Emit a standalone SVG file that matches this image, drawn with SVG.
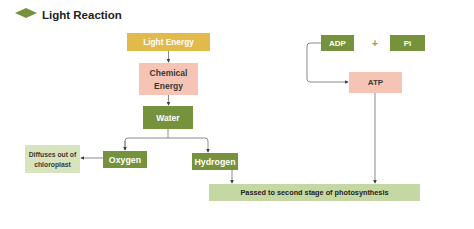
<svg xmlns="http://www.w3.org/2000/svg" width="474" height="229" viewBox="0 0 474 229">
<style>
text{font-family:"Liberation Sans",Arial,sans-serif;font-weight:bold;text-anchor:middle;dominant-baseline:central}
.w{fill:#ffffff}
.d{fill:#3a3a3a}
.gold{fill:#E2B94B}
.pink{fill:#F6C4B4}
.green{fill:#76923C}
.lg{fill:#D7E4BD}
.conn{fill:none;stroke:#8a8a8a;stroke-width:1}
</style>
<defs>
<marker id="ah" viewBox="0 0 6 6" refX="5" refY="3" markerWidth="4" markerHeight="4" orient="auto">
<path d="M0,0 L6,3 L0,6 z" fill="#404040"/>
</marker>
</defs>
<rect width="474" height="229" fill="#ffffff"/>
<g id="title">
<polygon points="15,13 26,8 37,13 26,18" fill="#76923C"/>
<text x="42" y="15" style="text-anchor:start;font-size:11.5px;fill:#222">Light Reaction</text>
</g>
<g id="light-energy">
<rect class="gold" x="127" y="33" width="83" height="18"/>
<text class="w" x="168.5" y="42" font-size="8.3">Light Energy</text>
</g>
<g id="chemical-energy">
<rect class="pink" x="139" y="63" width="59" height="32"/>
<text class="d" x="168.5" y="73" font-size="8.5">Chemical</text>
<text class="d" x="168.5" y="86" font-size="8.5">Energy</text>
</g>
<g id="water">
<rect class="green" x="143" y="106" width="50" height="23"/>
<text class="w" x="168" y="117.5" font-size="8.5">Water</text>
</g>
<g id="oxygen">
<rect class="green" x="103" y="151" width="44" height="17"/>
<text class="w" x="125" y="159.5" font-size="8.8">Oxygen</text>
</g>
<g id="hydrogen">
<rect class="green" x="192" y="153" width="46" height="17"/>
<text class="w" x="215" y="161.5" font-size="8.8">Hydrogen</text>
</g>
<g id="diffuses">
<rect class="lg" x="25" y="145" width="55" height="28"/>
<text class="d" x="52.5" y="154.5" font-size="6.8">Diffuses out of</text>
<text class="d" x="52.5" y="164.5" font-size="6.8">chloroplast</text>
</g>
<g id="passed">
<rect x="209" y="184" width="211" height="17" fill="#C5D8A4"/>
<text x="314.5" y="192.5" font-size="7.3" fill="#222">Passed to second stage of photosynthesis</text>
</g>
<g id="adp">
<rect class="green" x="321" y="35" width="33" height="16"/>
<text class="w" x="337.5" y="43" font-size="8">ADP</text>
</g>
<g id="plus">
<text x="375" y="43" font-size="10" fill="#B9874E">+</text>
</g>
<g id="pi">
<rect class="green" x="390" y="35" width="35" height="16"/>
<text class="w" x="407.5" y="43" font-size="8">Pi</text>
</g>
<g id="atp">
<rect class="pink" x="349" y="72" width="53" height="21"/>
<text class="d" x="375.5" y="82.5" font-size="8">ATP</text>
</g>
<g id="connectors">
<path class="conn" d="M168.5,51 V62" marker-end="url(#ah)"/>
<path class="conn" d="M168.5,95 V105" marker-end="url(#ah)"/>
<path class="conn" d="M168,129 V138"/>
<path class="conn" d="M125,150 V141 Q125,138 128,138 H205 Q208,138 208,141 V152" marker-end="url(#ah)"/>
<path class="conn" d="M125,141 V150" marker-end="url(#ah)"/>
<path class="conn" d="M103,158 H81" marker-end="url(#ah)"/>
<path class="conn" d="M232,170 V183" marker-end="url(#ah)"/>
<path class="conn" d="M375,93 V183" marker-end="url(#ah)"/>
<path class="conn" d="M321,43 H310 Q307,43 307,46 V79 Q307,82 310,82 H348" marker-end="url(#ah)"/>
</g>
</svg>
